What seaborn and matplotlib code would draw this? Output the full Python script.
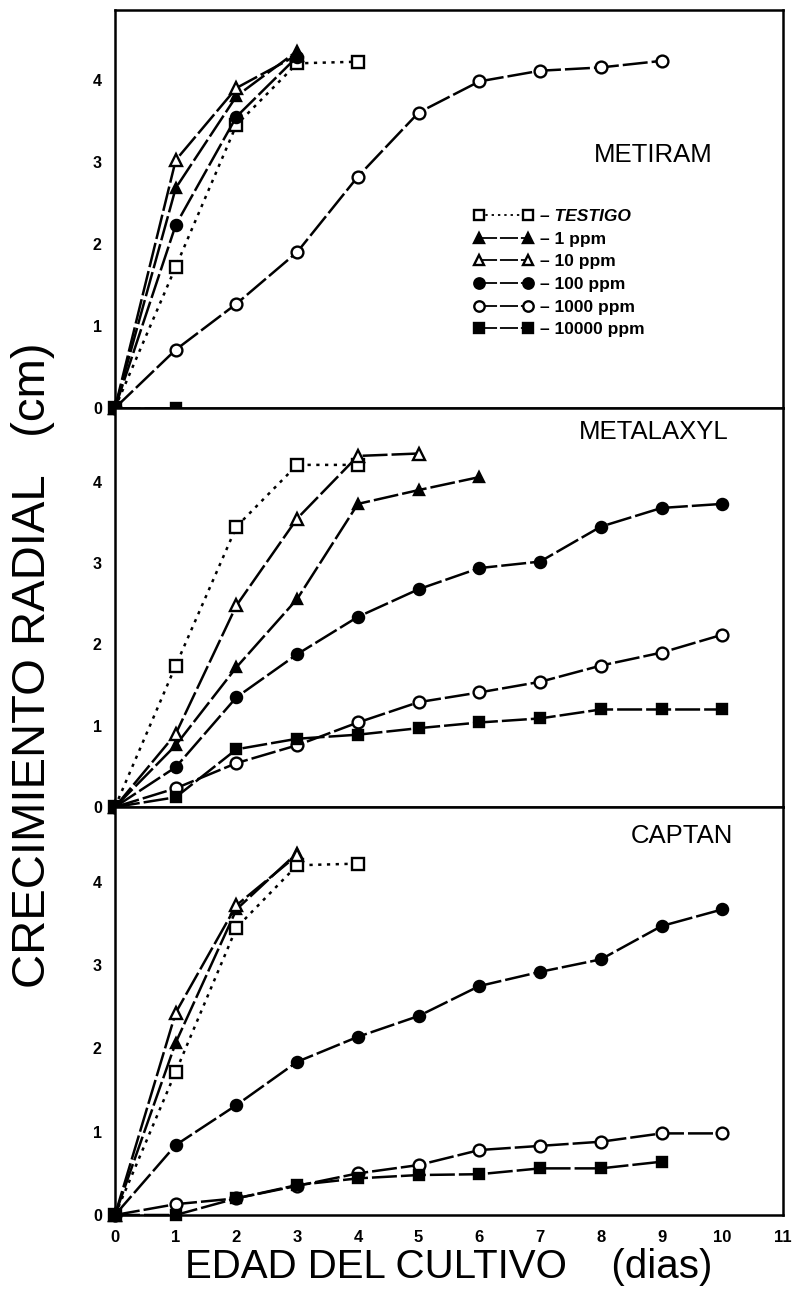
import matplotlib
matplotlib.use("Agg")
import matplotlib.pyplot as plt
import seaborn as sns
import pandas as pd

# ---------------- data ----------------
days = [0, 1, 2, 3, 4, 5, 6, 7, 8, 9, 10]
series_names = ["TESTIGO", "1 ppm", "10 ppm", "100 ppm", "1000 ppm", "10000 ppm"]
panel_titles = ["METIRAM", "METALAXYL", "CAPTAN"]
y_ticks = [0, 1, 2, 3, 4]
x_ticks = [0, 1, 2, 3, 4, 5, 6, 7, 8, 9, 10, 11]

metiram_testigo = [0, 1.72, 3.45, 4.20, 4.22]
metiram_1 = [0, 2.68, 3.80, 4.35]
metiram_10 = [0, 3.02, 3.90, 4.30]
metiram_100 = [0, 2.23, 3.55, 4.28]
metiram_1000 = [0, 0.71, 1.27, 1.90, 2.82, 3.60, 3.98, 4.11, 4.15, 4.23]
metiram_10000 = [0, 0]

metalaxyl_testigo = [0, 1.74, 3.45, 4.21, 4.21]
metalaxyl_1 = [0, 0.76, 1.72, 2.56, 3.73, 3.90, 4.06]
metalaxyl_10 = [0, 0.90, 2.48, 3.55, 4.32, 4.35]
metalaxyl_100 = [0, 0.49, 1.35, 1.88, 2.34, 2.68, 2.94, 3.02, 3.45, 3.68, 3.73]
metalaxyl_1000 = [0, 0.23, 0.54, 0.76, 1.04, 1.29, 1.41, 1.54, 1.74, 1.90, 2.12]
metalaxyl_10000 = [0, 0.12, 0.71, 0.84, 0.89, 0.97, 1.04, 1.09, 1.20, 1.20, 1.20]

captan_testigo = [0, 1.72, 3.45, 4.20, 4.22]
captan_1 = [0, 2.07, 3.67, 4.35]
captan_10 = [0, 2.43, 3.72, 4.32]
captan_100 = [0, 0.84, 1.32, 1.84, 2.14, 2.39, 2.75, 2.92, 3.07, 3.47, 3.67]
captan_1000 = [0, 0.13, 0.20, 0.35, 0.50, 0.60, 0.78, 0.83, 0.88, 0.98, 0.98]
captan_10000 = [0, 0, 0.20, 0.36, 0.44, 0.48, 0.49, 0.56, 0.56, 0.64]

panels = [
    [metiram_testigo, metiram_1, metiram_10, metiram_100, metiram_1000, metiram_10000],
    [metalaxyl_testigo, metalaxyl_1, metalaxyl_10, metalaxyl_100, metalaxyl_1000, metalaxyl_10000],
    [captan_testigo, captan_1, captan_10, captan_100, captan_1000, captan_10000],
]

# ---------------- styles ----------------
sns.set_style("white")
plt.rcParams["font.family"] = ["Liberation Sans", "DejaVu Sans"]
plt.rcParams["text.color"] = "black"
plt.rcParams["xtick.color"] = "black"
plt.rcParams["ytick.color"] = "black"
plt.rcParams["axes.labelcolor"] = "black"

LONG = (0, (10, 1.6))
DOT = (0, (1.3, 2.2))
styles = {
    "TESTIGO":   dict(marker="s", ms=8.5, mfc="white", ls=DOT),
    "1 ppm":     dict(marker="^", ms=7.0, mfc="black", ls=LONG),
    "10 ppm":    dict(marker="^", ms=9.0, mfc="white", ls=LONG),
    "100 ppm":   dict(marker="o", ms=8.0, mfc="black", ls=LONG),
    "1000 ppm":  dict(marker="o", ms=8.5, mfc="white", ls=LONG),
    "10000 ppm": dict(marker="s", ms=7.5, mfc="black", ls=LONG),
}

W, H = 796, 1298
fig = plt.figure(figsize=(W / 100, H / 100), dpi=100)

left_px, right_px = 115, 783
panel_px = [(10, 408), (408, 807), (807, 1215)]
ymax = [4.85, 4.91, 4.90]
label_pos = [(0.895, 0.636), (0.918, 0.94), (0.925, 0.929)]

for i, (top, bot) in enumerate(panel_px):
    ax = fig.add_axes([left_px / W, 1 - bot / H, (right_px - left_px) / W, (bot - top) / H])
    handles = []
    for name, vals in zip(series_names, panels[i]):
        st = styles[name]
        df = pd.DataFrame({"dia": days[:len(vals)], "cm": vals})
        sns.lineplot(data=df, x="dia", y="cm", ax=ax, errorbar=None, color="black",
                     linewidth=1.8, linestyle=st["ls"], marker=st["marker"],
                     markersize=st["ms"], markerfacecolor=st["mfc"],
                     markeredgecolor="black", markeredgewidth=1.7,
                     clip_on=False, zorder=3)
        handles.append(ax.get_lines()[-1])
    ax.set_xlim(0, 11)
    ax.set_ylim(0, ymax[i])
    ax.set_xticks(x_ticks)
    ax.set_yticks(y_ticks)
    ax.set_xlabel("")
    ax.set_ylabel("")
    for s in ax.spines.values():
        s.set_linewidth(1.8)
        s.set_color("black")
    ax.tick_params(axis="both", direction="inout", length=15, width=1.6,
                   color="black", labelcolor="black", top=False, right=False)
    ax.tick_params(axis="y", labelsize=11.5, pad=2)
    ax.tick_params(axis="x", labelsize=12, pad=3)
    for t in ax.get_yticklabels() + ax.get_xticklabels():
        t.set_fontweight("heavy")
    if i < 2:
        ax.set_xticklabels([])
    ax.text(label_pos[i][0], label_pos[i][1], panel_titles[i], transform=ax.transAxes,
            ha="right", va="center", fontsize=18.5, color="black")
    if i == 0:
        labels = ["– " + n for n in series_names]
        leg = ax.legend(handles, labels, loc="upper left",
                        bbox_to_anchor=(474 / W, 1 - 209 / H),
                        bbox_transform=fig.transFigure, frameon=False,
                        numpoints=2, handlelength=3.4, handletextpad=0.4,
                        labelspacing=0.43, borderpad=0, borderaxespad=0,
                        prop=dict(weight="bold", size=12.5))
        leg.get_texts()[0].set_style("italic")
        for t in leg.get_texts():
            t.set_color("black")
        for ln in leg.get_lines():
            ln.set_linewidth(1.3)
            ln.set_markersize(7.5)

fig.text(33 / W, 1 - 665 / H, "CRECIMIENTO RADIAL   (cm)", rotation=90,
         ha="center", va="center", fontsize=34, color="black")
fig.text(449 / W, 1 - 1267 / H, "EDAD DEL CULTIVO    (dias)",
         ha="center", va="center", fontsize=29, color="black")

fig.savefig("out.png", dpi=100)
